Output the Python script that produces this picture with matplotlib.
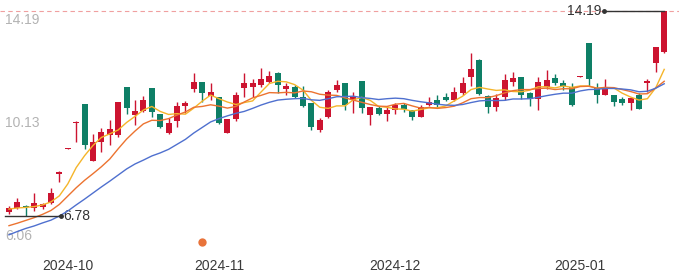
import numpy as np
import matplotlib
matplotlib.use("Agg")
import matplotlib.pyplot as plt

plt.rcParams['font.family'] = ['Liberation Sans', 'DejaVu Sans']

# ============================================================
# Daily candles, 2024-09-20 .. 2025-01-16
# ============================================================

open_ = [6.92, 7.07, 7.14, 7.08, 7.12, 7.24, 8.31, 9.20, 10.14, 10.82,
         8.77, 9.46, 9.71, 9.71, 11.45, 10.43, 10.59, 11.42, 10.47, 9.79,
         10.21, 10.76, 11.36, 11.63, 11.12, 11.07, 9.79, 10.27, 11.40, 11.45,
         11.52, 11.63, 11.94, 11.36, 11.43, 11.07, 10.85, 9.89, 10.37, 11.33,
         11.58, 10.99, 11.66, 10.43, 10.67, 10.47, 10.61, 10.79, 10.61, 10.35,
         10.79, 10.97, 11.09, 10.97, 11.24, 11.79, 12.42, 11.12, 10.73, 11.09,
         11.63, 11.79, 11.21, 11.00, 11.43, 11.76, 11.60, 11.43, 11.80, 13.04,
         11.39, 11.15, 11.15, 11.00, 10.85, 11.15, 11.57, 12.30, 12.72]
close = [7.07, 7.29, 7.10, 7.24, 7.21, 7.62, 8.38, 9.24, 10.19, 9.35,
         9.47, 9.83, 9.91, 10.91, 10.67, 10.58, 10.97, 10.55, 10.01, 10.13,
         10.76, 10.87, 11.63, 11.24, 11.25, 10.13, 10.27, 11.15, 11.58, 11.58,
         11.72, 11.84, 11.52, 11.48, 11.07, 10.76, 9.99, 10.25, 11.27, 11.52,
         10.79, 11.09, 10.67, 10.71, 10.45, 10.61, 10.79, 10.63, 10.37, 10.73,
         10.91, 10.79, 10.99, 11.27, 11.60, 12.08, 11.19, 10.71, 11.03, 11.70,
         11.78, 11.15, 11.00, 11.63, 11.70, 11.57, 11.48, 10.79, 11.84, 11.72,
         11.15, 11.43, 10.91, 10.87, 11.03, 10.63, 11.67, 12.88, 14.19]
high = [7.14, 7.43, 7.16, 7.62, 7.25, 7.78, 8.40, 9.24, 10.20, 10.82,
        9.74, 9.95, 10.25, 10.91, 11.45, 10.97, 11.12, 11.42, 10.47, 10.31,
        10.91, 10.94, 11.96, 11.63, 11.58, 11.07, 10.27, 11.27, 11.96, 11.72,
        12.12, 12.02, 12.00, 11.58, 11.52, 11.48, 10.85, 10.31, 11.33, 11.70,
        11.60, 11.27, 11.66, 10.71, 10.76, 10.76, 10.85, 10.85, 10.61, 10.79,
        11.07, 11.15, 11.23, 11.45, 11.81, 12.66, 12.44, 11.15, 11.19, 11.91,
        11.99, 11.79, 11.27, 11.79, 12.06, 11.91, 11.70, 11.60, 11.84, 13.04,
        11.60, 11.72, 11.15, 11.09, 11.09, 11.21, 11.72, 12.88, 14.19]
low = [6.85, 7.03, 6.78, 6.97, 7.03, 7.21, 8.02, 9.20, 9.46, 9.19,
       8.77, 9.10, 9.35, 9.65, 10.47, 10.07, 10.55, 10.35, 9.95, 9.73,
       9.99, 10.51, 11.27, 10.91, 10.97, 10.10, 9.77, 10.22, 11.07, 11.09,
       11.45, 11.60, 11.22, 11.15, 11.03, 10.71, 9.89, 9.83, 10.31, 11.27,
       10.61, 10.51, 10.49, 10.07, 10.43, 10.22, 10.47, 10.55, 10.25, 10.35,
       10.77, 10.73, 10.95, 10.95, 11.15, 11.48, 11.15, 10.51, 10.59, 10.97,
       11.48, 11.00, 10.76, 10.61, 11.36, 11.52, 11.33, 10.76, 11.80, 11.48,
       10.87, 11.15, 10.76, 10.79, 10.61, 10.63, 11.27, 11.99, 12.66]

# moving averages as drawn on the chart
ma5 = [7.03, 7.07, 7.09, 7.12, 7.18, 7.29, 7.51, 7.94, 8.53, 8.96,
       9.33, 9.62, 9.75, 9.89, 10.16, 10.38, 10.61, 10.74, 10.56, 10.45,
       10.48, 10.46, 10.68, 10.93, 11.15, 11.02, 10.90, 10.81, 10.88, 10.94,
       11.26, 11.57, 11.65, 11.63, 11.53, 11.33, 10.96, 10.71, 10.67, 10.76,
       10.76, 10.98, 11.07, 10.96, 10.74, 10.71, 10.65, 10.64, 10.57, 10.63,
       10.69, 10.69, 10.76, 10.94, 11.11, 11.35, 11.43, 11.37, 11.32, 11.34,
       11.28, 11.27, 11.33, 11.45, 11.45, 11.41, 11.48, 11.43, 11.48, 11.48,
       11.40, 11.39, 11.41, 11.22, 11.08, 10.97, 11.02, 11.42, 12.08]
ma10 = [6.43, 6.52, 6.62, 6.72, 6.84, 6.98, 7.20, 7.50, 7.80, 8.07,
        8.31, 8.56, 8.84, 9.21, 9.56, 9.85, 10.11, 10.24, 10.23, 10.30,
        10.43, 10.54, 10.71, 10.74, 10.80, 10.75, 10.68, 10.74, 10.90, 11.05,
        11.14, 11.24, 11.23, 11.25, 11.23, 11.30, 11.27, 11.18, 11.15, 11.14,
        11.05, 10.97, 10.89, 10.81, 10.75, 10.74, 10.82, 10.85, 10.76, 10.68,
        10.70, 10.67, 10.70, 10.75, 10.87, 11.02, 11.06, 11.06, 11.13, 11.23,
        11.31, 11.35, 11.35, 11.39, 11.40, 11.35, 11.38, 11.38, 11.46, 11.47,
        11.40, 11.43, 11.42, 11.35, 11.28, 11.19, 11.20, 11.41, 11.65]
ma20 = [6.10, 6.22, 6.33, 6.42, 6.53, 6.63, 6.78, 6.96, 7.18, 7.39,
        7.61, 7.83, 8.04, 8.26, 8.48, 8.66, 8.80, 8.95, 9.06, 9.19,
        9.37, 9.55, 9.78, 9.98, 10.18, 10.30, 10.40, 10.49, 10.56, 10.67,
        10.79, 10.89, 10.97, 11.00, 11.02, 11.03, 10.98, 10.96, 11.02, 11.09,
        11.10, 11.11, 11.06, 11.03, 10.99, 11.02, 11.04, 11.02, 10.96, 10.91,
        10.87, 10.82, 10.79, 10.78, 10.81, 10.88, 10.94, 10.96, 10.95, 10.96,
        11.01, 11.01, 11.02, 11.07, 11.13, 11.18, 11.22, 11.22, 11.30, 11.35,
        11.36, 11.39, 11.39, 11.37, 11.34, 11.27, 11.29, 11.40, 11.56]

month_ticks = [7, 25, 46, 68]
month_labels = ["2024-10", "2024-11", "2024-12", "2025-01"]
y_labels = [14.19, 10.13, 6.06]

event_idx = 23
event_val = 5.84

# ============================================================
# Plot
# ============================================================

RED = "#cc1430"
GREEN = "#0e7f66"

o = np.array(open_)
c = np.array(close)
h = np.array(high)
l = np.array(low)
x = np.arange(len(c))
up = c >= o
col = np.where(up, RED, GREEN)

fig = plt.figure(figsize=(6.79, 2.80), dpi=100)
ax = fig.add_axes([0, 0, 1, 1])
ax.set_xlim(-1.07, 79.76)
ax.set_ylim(4.466, 14.588)
ax.axis("off")

# top dashed line at the max
ax.axhline(max(high), color="#f0a0a0", lw=0.8, ls=(0, (4, 3)), zorder=1)

ax.vlines(x, l, h, colors=col, lw=1.0, zorder=2)
body = np.maximum(np.abs(c - o), 0.04)
ax.bar(x, body, bottom=np.minimum(o, c), width=0.72, color=col,
       linewidth=0, zorder=3)

ax.plot(x, ma5, color="#f5b52a", lw=1.0, zorder=4)
ax.plot(x, ma10, color="#ec7330", lw=1.0, zorder=4)
ax.plot(x, ma20, color="#4f70cf", lw=1.0, zorder=4)

# y labels on the left
for v in y_labels:
    if v == max(y_labels):
        ax.text(-0.5, v - 0.07, f"{v:.2f}", ha="left", va="top",
                fontsize=10, color="#b3b3b3")
    else:
        ax.text(-0.5, v, f"{v:.2f}", ha="left", va="center",
                fontsize=10, color="#b3b3b3")

# month labels
for t, lab in zip(month_ticks, month_labels):
    ax.text(t, 0.05, lab, transform=ax.get_xaxis_transform(),
            ha="center", va="center", fontsize=10, color="#3a3a3a")

# max / min markers
i_max = int(np.argmax(h))
i_min = int(np.argmin(l))
ax.plot([70.85, i_max], [h[i_max], h[i_max]], color="#333333", lw=1.0, zorder=5)
ax.plot([70.85], [h[i_max]], "o", ms=2.5, color="#333333", zorder=5)
ax.text(70.5, h[i_max], f"{h[i_max]:.2f}", ha="right", va="center",
        fontsize=10, color="#333333")

ax.plot([-0.48, 6.2], [l[i_min], l[i_min]], color="#333333", lw=1.0, zorder=5)
ax.plot([6.2], [l[i_min]], "o", ms=2.5, color="#333333", zorder=5)
ax.text(6.4, l[i_min], f"{l[i_min]:.2f}", ha="left", va="center",
        fontsize=10, color="#333333")

# event dot
ax.plot([event_idx], [event_val], "o", ms=6, color="#e8733a",
        markeredgewidth=0, zorder=5)

fig.savefig("out.png", dpi=100)
